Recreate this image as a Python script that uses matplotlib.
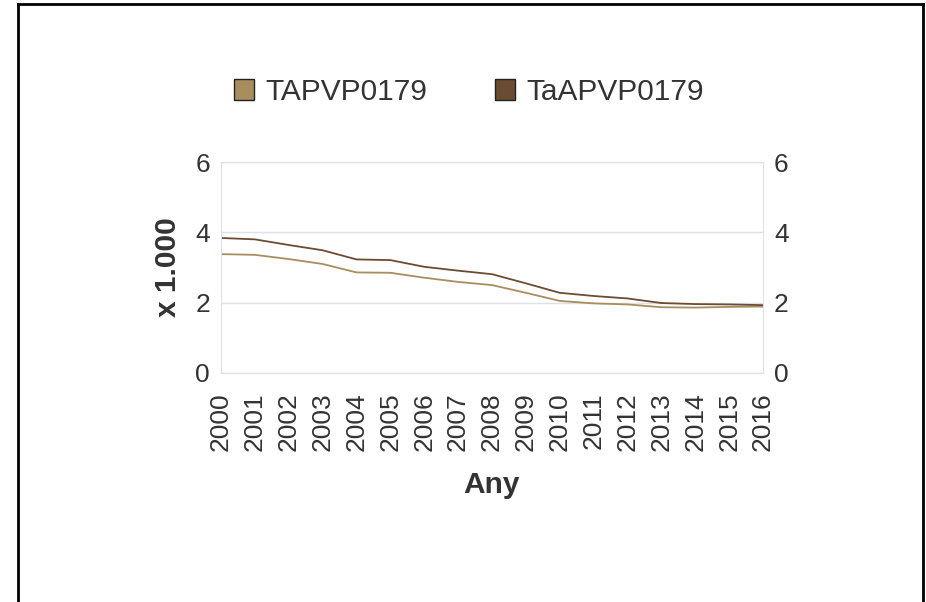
import matplotlib
matplotlib.use("Agg")
import matplotlib.pyplot as plt
from matplotlib.lines import Line2D
from matplotlib.patches import Patch

plt.rcParams['font.family'] = ['Liberation Sans', 'DejaVu Sans']

years = [str(y) for y in range(2000, 2017)]
tapvp = [3.38, 3.36, 3.24, 3.10, 2.86, 2.85, 2.71, 2.59, 2.50, 2.28, 2.05, 1.98, 1.95, 1.87, 1.86, 1.88, 1.89]
taapvp = [3.84, 3.80, 3.64, 3.49, 3.23, 3.21, 3.02, 2.91, 2.81, 2.55, 2.28, 2.19, 2.12, 1.99, 1.96, 1.95, 1.93]
yticks = [0, 2, 4, 6]

c_light = "#a88d5e"
c_dark = "#6b4c32"
text_c = "#333333"

W, H = 926, 602
fig = plt.figure(figsize=(W / 100, H / 100), dpi=100)
ax = fig.add_axes([221 / W, 1 - 373 / H, (763 - 221) / W, (373 - 162) / H])

x = list(range(len(years)))
ax.plot(x, tapvp, color=c_light, lw=1.3)
ax.plot(x, taapvp, color=c_dark, lw=1.3)

ax.set_xlim(0, len(years) - 1)
ax.set_ylim(0, 6)
ax.set_yticks(yticks)
ax.yaxis.grid(True, color="#e0e0e6", lw=1)
ax.set_axisbelow(True)
for s in ax.spines.values():
    s.set_color("#e0e0e6")
ax.tick_params(axis="both", length=0, labelsize=19, colors=text_c)
ax.tick_params(axis="y", labelright=True, right=False, pad=8)
ax.set_xticks(x)
ax.set_xticklabels(years, rotation=90)
ax.tick_params(axis="x", pad=14)

ax.set_ylabel("x 1.000", fontsize=21.5, fontweight="bold", color=text_c)
ax.yaxis.set_label_coords(-0.072, 0.5)
ax.set_xlabel("Any", fontsize=21.5, fontweight="bold", color=text_c)
ax.xaxis.set_label_coords(0.5, -0.465)

handles = [Patch(facecolor=c_light, edgecolor="#222222", lw=1),
           Patch(facecolor=c_dark, edgecolor="#222222", lw=1)]
fig.legend(handles, ["TAPVP0179", "TaAPVP0179"], loc="center",
           bbox_to_anchor=(469 / W, 1 - 92 / H), ncol=2, frameon=False,
           fontsize=21.5, handlelength=0.67, handleheight=0.67, handletextpad=0.4,
           columnspacing=2.24, labelcolor=text_c, borderpad=0)

# outer frame (open at the bottom)
fx0, fx1, fy = 18 / W, 923 / W, 1 - 4 / H
fig.add_artist(Line2D([fx0, fx0], [0, fy], color="black", lw=2))
fig.add_artist(Line2D([fx1, fx1], [0, fy], color="black", lw=2))
fig.add_artist(Line2D([fx0, fx1], [fy, fy], color="black", lw=2))

fig.savefig("out.png", dpi=100)
